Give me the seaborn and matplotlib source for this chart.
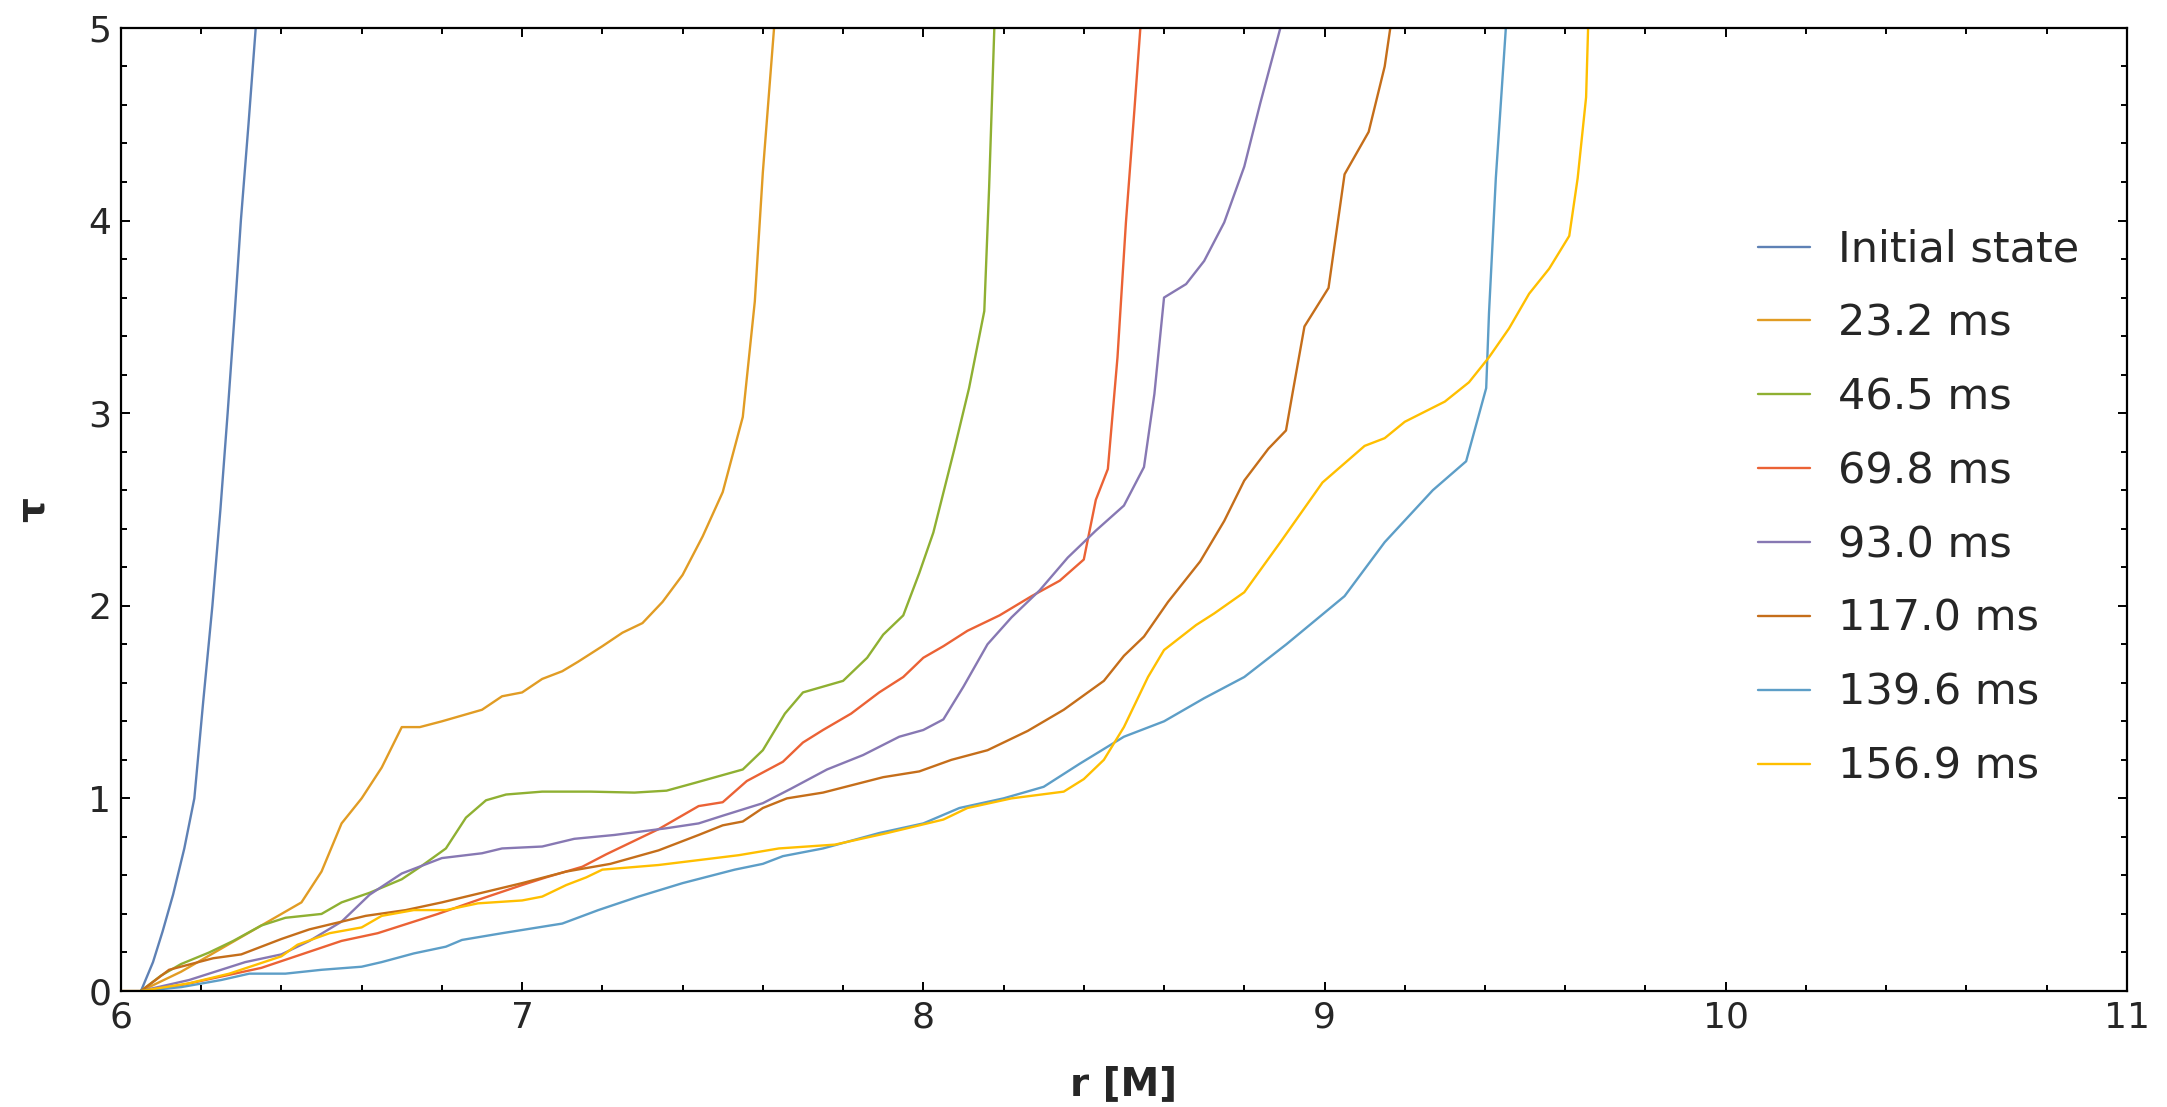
import numpy as np
import pandas as pd
import matplotlib
matplotlib.use("Agg")
import matplotlib.pyplot as plt
import seaborn as sns
from matplotlib.ticker import MultipleLocator

# curves: r [M] and tau per snapshot
labels = ["Initial state", "23.2 ms", "46.5 ms", "69.8 ms", "93.0 ms",
          "117.0 ms", "139.6 ms", "156.9 ms"]
colors = ["#5E81B5", "#E19C24", "#8FB032", "#EB6235", "#8778B3",
          "#C56E1A", "#5D9EC7", "#FFBF00"]

r_init = [6.05, 6.08, 6.104, 6.13, 6.158, 6.183, 6.205, 6.228, 6.248, 6.266, 6.283, 6.299, 6.318, 6.336]
tau_init = [0.0, 0.15, 0.31, 0.5, 0.74, 1.0, 1.5, 2.0, 2.5, 3.0, 3.5, 4.0, 4.5, 5.0]

r_232 = [6.0, 6.05, 6.15, 6.25, 6.35, 6.45, 6.5, 6.55, 6.6, 6.65, 6.7, 6.745, 6.8, 6.85, 6.9, 6.95,
         7.0, 7.05, 7.1, 7.14, 7.2, 7.25, 7.3, 7.35, 7.4, 7.45, 7.5, 7.55, 7.58, 7.6, 7.628]
tau_232 = [0.0, 0.0, 0.1, 0.22, 0.34, 0.46, 0.62, 0.87, 1.0, 1.16, 1.37, 1.37, 1.40, 1.43, 1.46, 1.53,
           1.55, 1.62, 1.66, 1.71, 1.79, 1.86, 1.91, 2.02, 2.16, 2.36, 2.59, 2.98, 3.58, 4.25, 5.0]

r_465 = [6.05, 6.1, 6.15, 6.22, 6.28, 6.35, 6.41, 6.5, 6.55, 6.62, 6.7, 6.75, 6.81, 6.86, 6.91, 6.96,
         7.05, 7.17, 7.28, 7.36, 7.43, 7.55, 7.6, 7.655, 7.7, 7.8, 7.86, 7.9, 7.95, 7.99, 8.025,
         8.077, 8.114, 8.152, 8.164, 8.177]
tau_465 = [0.0, 0.08, 0.14, 0.2, 0.26, 0.34, 0.38, 0.40, 0.46, 0.51, 0.58, 0.65, 0.74, 0.90, 0.99, 1.02,
           1.035, 1.035, 1.03, 1.04, 1.08, 1.15, 1.25, 1.44, 1.55, 1.61, 1.73, 1.85, 1.95, 2.17, 2.38,
           2.81, 3.13, 3.53, 4.17, 5.0]

r_698 = [6.05, 6.15, 6.23, 6.35, 6.45, 6.55, 6.64, 6.73, 6.79, 6.9, 7.0, 7.06, 7.15, 7.21, 7.34, 7.44,
         7.5, 7.56, 7.65, 7.7, 7.75, 7.82, 7.89, 7.95, 8.0, 8.05, 8.11, 8.19, 8.27, 8.34, 8.40, 8.43,
         8.46, 8.484, 8.505, 8.526, 8.541]
tau_698 = [0.0, 0.03, 0.066, 0.12, 0.19, 0.26, 0.30, 0.36, 0.40, 0.48, 0.55, 0.59, 0.645, 0.71, 0.84, 0.96,
           0.98, 1.09, 1.19, 1.29, 1.355, 1.44, 1.55, 1.63, 1.73, 1.79, 1.87, 1.95, 2.05, 2.13, 2.24, 2.55,
           2.71, 3.29, 3.99, 4.57, 5.0]

r_930 = [6.05, 6.17, 6.31, 6.4, 6.47, 6.55, 6.62, 6.7, 6.8, 6.9, 6.95, 7.05, 7.13, 7.23, 7.36, 7.44,
         7.5, 7.6, 7.67, 7.76, 7.85, 7.94, 8.0, 8.05, 8.1, 8.16, 8.22, 8.29, 8.36, 8.43, 8.5, 8.55,
         8.576, 8.60, 8.655, 8.70, 8.75, 8.80, 8.84, 8.89]
tau_930 = [0.0, 0.057, 0.15, 0.19, 0.26, 0.36, 0.50, 0.61, 0.69, 0.715, 0.74, 0.75, 0.79, 0.81, 0.845, 0.87,
           0.91, 0.975, 1.05, 1.15, 1.225, 1.32, 1.355, 1.41, 1.58, 1.80, 1.94, 2.08, 2.25, 2.39, 2.52, 2.72,
           3.1, 3.60, 3.67, 3.79, 3.99, 4.28, 4.61, 5.0]

r_1170 = [6.05, 6.12, 6.23, 6.3, 6.4, 6.47, 6.61, 6.71, 6.8, 6.9, 7.0, 7.11, 7.22, 7.34, 7.44, 7.5,
          7.55, 7.6, 7.66, 7.75, 7.9, 7.99, 8.07, 8.16, 8.26, 8.35, 8.45, 8.5, 8.55, 8.61, 8.69, 8.75,
          8.80, 8.86, 8.904, 8.92, 8.95, 9.01, 9.05, 9.11, 9.15, 9.164]
tau_1170 = [0.0, 0.11, 0.17, 0.19, 0.27, 0.32, 0.39, 0.42, 0.46, 0.51, 0.56, 0.62, 0.66, 0.73, 0.81, 0.86,
            0.88, 0.95, 1.0, 1.03, 1.11, 1.14, 1.20, 1.25, 1.35, 1.46, 1.61, 1.74, 1.84, 2.02, 2.23, 2.44,
            2.65, 2.815, 2.91, 3.1, 3.45, 3.65, 4.24, 4.46, 4.80, 5.0]

r_1396 = [6.05, 6.15, 6.25, 6.32, 6.41, 6.5, 6.6, 6.65, 6.73, 6.81, 6.85, 6.95, 7.1, 7.19, 7.29, 7.4,
          7.53, 7.6, 7.65, 7.75, 7.89, 8.0, 8.09, 8.2, 8.3, 8.39, 8.5, 8.6, 8.7, 8.8, 8.905, 9.05,
          9.15, 9.27, 9.353, 9.403, 9.41, 9.427, 9.452]
tau_1396 = [0.0, 0.02, 0.057, 0.09, 0.09, 0.11, 0.126, 0.15, 0.195, 0.23, 0.265, 0.30, 0.35, 0.42, 0.49, 0.56,
            0.63, 0.66, 0.70, 0.74, 0.82, 0.87, 0.95, 1.0, 1.06, 1.18, 1.32, 1.40, 1.52, 1.63, 1.80, 2.05,
            2.33, 2.60, 2.75, 3.13, 3.52, 4.22, 5.0]

r_1569 = [6.05, 6.17, 6.27, 6.4, 6.44, 6.52, 6.6, 6.65, 6.73, 6.81, 6.89, 7.0, 7.05, 7.11, 7.16, 7.2,
          7.34, 7.54, 7.64, 7.78, 7.91, 8.05, 8.11, 8.22, 8.35, 8.4, 8.45, 8.5, 8.56, 8.6, 8.68, 8.725,
          8.8, 8.89, 8.995, 9.1, 9.15, 9.2, 9.3, 9.36, 9.41, 9.46, 9.51, 9.56, 9.61, 9.631, 9.652, 9.657]
tau_1569 = [0.0, 0.04, 0.09, 0.18, 0.24, 0.30, 0.33, 0.39, 0.42, 0.42, 0.455, 0.47, 0.49, 0.55, 0.59, 0.63,
            0.654, 0.705, 0.74, 0.76, 0.82, 0.89, 0.95, 1.0, 1.035, 1.10, 1.20, 1.37, 1.63, 1.77, 1.90, 1.96,
            2.07, 2.33, 2.64, 2.83, 2.87, 2.955, 3.06, 3.16, 3.29, 3.44, 3.62, 3.75, 3.92, 4.22, 4.64, 5.0]

curves = [(r_init, tau_init), (r_232, tau_232), (r_465, tau_465), (r_698, tau_698),
          (r_930, tau_930), (r_1170, tau_1170), (r_1396, tau_1396), (r_1569, tau_1569)]

frames = []
for lab, (r, tau) in zip(labels, curves):
    frames.append(pd.DataFrame({"r": r, "tau": tau, "state": lab}))
df = pd.concat(frames, ignore_index=True)

sns.set_style("ticks")
plt.rcParams["font.family"] = ["DejaVu Sans"]

fig = plt.figure(figsize=(21.67, 11.07), dpi=100)
ax = fig.add_axes([0.0558, 0.1048, 0.9257, 0.87])

sns.lineplot(data=df, x="r", y="tau", hue="state", hue_order=labels, palette=colors,
             sort=False, estimator=None, linewidth=1.7, ax=ax)

ax.set_xlim(6, 11)
ax.set_ylim(0, 5)
ax.xaxis.set_major_locator(MultipleLocator(1))
ax.xaxis.set_minor_locator(MultipleLocator(0.2))
ax.yaxis.set_major_locator(MultipleLocator(1))
ax.yaxis.set_minor_locator(MultipleLocator(0.2))
ax.tick_params(which="both", direction="in", top=True, right=True, width=1.4, color="black")
ax.tick_params(which="major", length=6.5, labelsize=26, pad=7)
ax.tick_params(which="minor", length=4)
for s in ax.spines.values():
    s.set_linewidth(1.6)
    s.set_color("black")

ax.set_xlabel("r [M]", fontsize=28, fontweight="bold", labelpad=22)
ax.set_ylabel("τ", fontsize=28, fontweight="bold", labelpad=26)

ax.legend(frameon=False, loc="center left", bbox_to_anchor=(0.8015, 0.541),
          bbox_transform=fig.transFigure, fontsize=31, handlelength=1.2,
          handletextpad=0.65, labelspacing=0.74, borderpad=0)

fig.savefig("out.png", dpi=100)
